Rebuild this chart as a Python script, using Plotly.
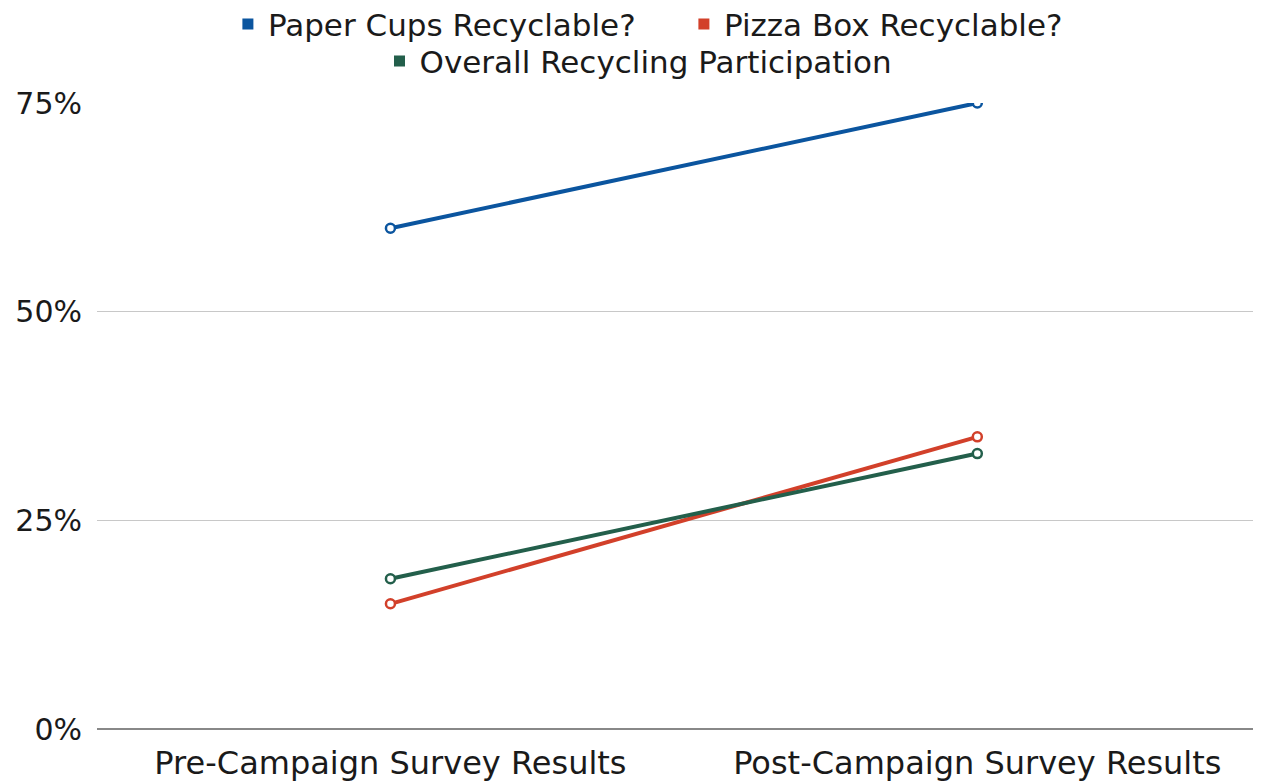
import plotly.graph_objects as go

categories = ["Pre-Campaign Survey Results", "Post-Campaign Survey Results"]
paper_cups = [0.60, 0.75]
pizza_box = [0.15, 0.35]
overall = [0.18, 0.33]

series = [
    ("Paper Cups Recyclable?", paper_cups, "#0B559F", "legend"),
    ("Pizza Box Recyclable?", pizza_box, "#D2402A", "legend"),
    ("Overall Recycling Participation", overall, "#235F4B", "legend2"),
]

FONT = "DejaVu Sans"
TEXT = "#1A1A1A"

fig = go.Figure()

for name, vals, color, lg in series:
    fig.add_trace(go.Scatter(
        x=categories, y=vals, mode="lines+markers", name=name,
        line=dict(color=color, width=4),
        marker=dict(symbol="circle", size=9, color="white", line=dict(color=color, width=2.5)),
        showlegend=False
    ))

# legend entries with square swatches
for name, vals, color, lg in series:
    fig.add_trace(go.Scatter(
        x=[None], y=[None], mode="markers", name=name, legend=lg,
        marker=dict(symbol="square", size=11, color=color)
    ))

# page body has an 8px margin, so offsets are shifted by 8
fig.update_layout(
    width=1261, height=783,
    margin=dict(l=89, r=0, t=95, b=62),
    paper_bgcolor="white", plot_bgcolor="white",
    font=dict(family=FONT, size=30, color=TEXT),
    legend=dict(orientation="h", x=0.536, xanchor="center", xref="container",
                y=0.979, yref="container", yanchor="middle",
                bgcolor="rgba(0,0,0,0)",
                font=dict(size=31), itemwidth=30, entrywidth=411),
    legend2=dict(orientation="h", x=0.5, xanchor="center", xref="container",
                 y=0.932, yref="container", yanchor="middle",
                 bgcolor="rgba(0,0,0,0)",
                 font=dict(size=31), itemwidth=30),
)

fig.update_xaxes(range=[-0.5, 1.497], showgrid=False, showline=False, ticks="",
                 tickfont=dict(size=32), ticklabelstandoff=12, automargin=False)
fig.update_yaxes(range=[0, 0.75], tickvals=[0, 0.25, 0.5, 0.75], tickformat=".0%",
                 gridcolor="#C8C8C8", gridwidth=1, zeroline=True, zerolinecolor="#888888",
                 zerolinewidth=1.5, ticks="", ticklabelstandoff=14, tickfont=dict(size=30),
                 automargin=False)

fig.write_html("out.html")
